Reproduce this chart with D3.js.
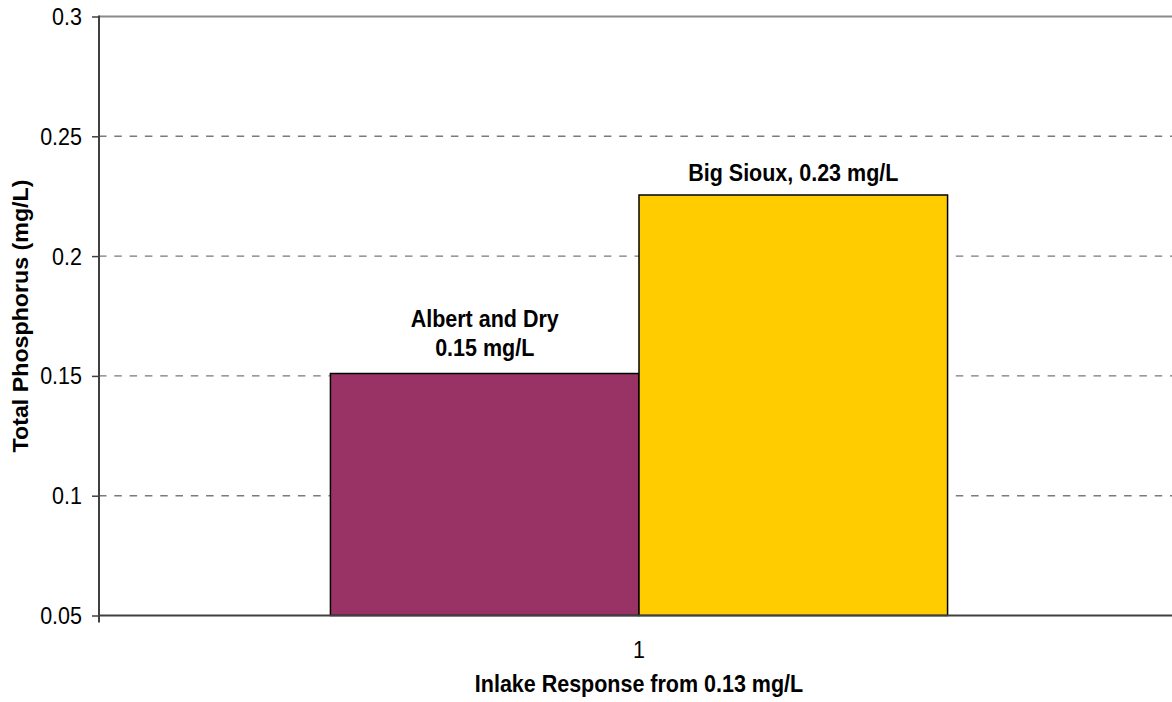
<!DOCTYPE html>
<html>
<head>
<meta charset="utf-8">
<script src="https://cdn.jsdelivr.net/npm/d3@7"></script>
<style>
  html, body { margin: 0; padding: 0; background: #fff; }
  svg { display: block; }
  text { font-family: "Liberation Sans", Arial, sans-serif; fill: #000; }
</style>
</head>
<body>
<svg id="chart" width="1172" height="702"></svg>
<script>
// Chart data
const categories = ["1"];
const seriesNames = ["Albert and Dry", "Big Sioux"];
const seriesValues = [0.151, 0.2255];
const seriesColors = ["#993366", "#FFCC00"];
const yTicks = [0.05, 0.1, 0.15, 0.2, 0.25, 0.3];
const yTickLabels = ["0.05", "0.1", "0.15", "0.2", "0.25", "0.3"];
const xTitle = "Inlake Response from 0.13 mg/L";
const yTitle = "Total Phosphorus (mg/L)";

const svg = d3.select("#chart");
const plot = { left: 99, right: 1179, top: 16.5, bottom: 615.5 };
const fontSize = 21.5;
const stretch = 1.08;         // text is drawn slightly taller than wide
const gapWidth = 1.5;         // gap between category groups, in bar widths

const y = d3.scaleLinear().domain([0.05, 0.3]).range([plot.bottom, plot.top]);
const x = d3.scaleBand()
  .domain(categories)
  .range([plot.left, plot.right])
  .paddingInner(0)
  .paddingOuter(gapWidth / (2 * seriesNames.length));
const xs = d3.scaleBand().domain(seriesNames).range([0, x.bandwidth()]);

const fmt = d3.format(".2f");

// Gridlines (dashed) and solid top border
const gridG = svg.append("g");
gridG.selectAll("line.grid")
  .data(yTicks.filter(t => t > 0.05 && t < 0.3))
  .join("line")
  .attr("class", "grid")
  .attr("x1", plot.left).attr("x2", plot.right)
  .attr("y1", d => y(d)).attr("y2", d => y(d))
  .attr("stroke", "#7a7a7a")
  .attr("stroke-width", 1.4)
  .attr("stroke-dasharray", "7.5,7.8");
gridG.append("line")
  .attr("x1", plot.left).attr("x2", plot.right)
  .attr("y1", y(0.3)).attr("y2", y(0.3))
  .attr("stroke", "#8a8a8a")
  .attr("stroke-width", 2);

// Bars
const barsG = svg.append("g");
categories.forEach(cat => {
  barsG.selectAll(null)
    .data(seriesNames.map((name, i) => ({ name, value: seriesValues[i], color: seriesColors[i] })))
    .join("rect")
    .attr("x", d => x(cat) + xs(d.name))
    .attr("y", d => y(d.value))
    .attr("width", xs.bandwidth())
    .attr("height", d => y(0.05) - y(d.value))
    .attr("fill", d => d.color)
    .attr("stroke", "#000")
    .attr("stroke-width", 1.5);
});

// Axes
const axisColor = "#404040";
const yAxis = d3.axisLeft(y).tickValues(yTicks).tickSize(7).tickFormat((d, i) => yTickLabels[i]);
const yAxisG = svg.append("g").attr("transform", `translate(${plot.left},0)`).call(yAxis);
yAxisG.select(".domain").remove();
yAxisG.selectAll(".tick line").attr("stroke", axisColor).attr("stroke-width", 1.5);
yAxisG.selectAll(".tick text").remove();
yAxisG.selectAll(".tick")
  .append("text")
  .attr("text-anchor", "end")
  .attr("font-size", fontSize)
  .attr("transform", `translate(-17,8) scale(1,${stretch})`)
  .text((d, i) => yTickLabels[i]);

svg.append("line")
  .attr("x1", plot.left).attr("x2", plot.left)
  .attr("y1", plot.top - 1).attr("y2", plot.bottom + 7)
  .attr("stroke", axisColor).attr("stroke-width", 2);

const xAxis = d3.axisBottom(x).tickSize(0).tickPadding(0);
const xAxisG = svg.append("g").attr("transform", `translate(0,${plot.bottom})`).call(xAxis);
xAxisG.select(".domain").attr("stroke", axisColor).attr("stroke-width", 2)
  .attr("d", `M${plot.left},0H${plot.right}`);
xAxisG.selectAll(".tick text").remove();
xAxisG.selectAll(".tick")
  .append("text")
  .attr("text-anchor", "middle")
  .attr("font-size", fontSize)
  .attr("transform", `translate(0,42) scale(1,${stretch})`)
  .text(d => d);

// Data labels
const labelsG = svg.append("g").attr("font-weight", "bold").attr("font-size", fontSize).attr("text-anchor", "middle");
seriesNames.forEach((name, i) => {
  const cx = x(categories[0]) + xs(name) + xs.bandwidth() / 2;
  const top = y(seriesValues[i]);
  const valueText = fmt(seriesValues[i]) + " mg/L";
  if (i === 0) {
    labelsG.append("text")
      .attr("transform", `translate(${cx},${top - 47}) scale(1,${stretch})`)
      .text(name);
    labelsG.append("text")
      .attr("transform", `translate(${cx},${top - 18}) scale(1,${stretch})`)
      .text(valueText);
  } else {
    labelsG.append("text")
      .attr("transform", `translate(${cx},${top - 14}) scale(1,${stretch})`)
      .text(name + ", " + valueText);
  }
});

// Axis titles
svg.append("text")
  .attr("font-weight", "bold").attr("font-size", fontSize).attr("text-anchor", "middle")
  .attr("transform", `translate(${(plot.left + plot.right) / 2},692) scale(1,${stretch})`)
  .text(xTitle);
svg.append("text")
  .attr("font-weight", "bold").attr("font-size", fontSize).attr("text-anchor", "middle")
  .attr("transform", `translate(28,${(plot.top + plot.bottom) / 2}) rotate(-90) scale(${stretch},1)`)
  .text(yTitle);
</script>
</body>
</html>
